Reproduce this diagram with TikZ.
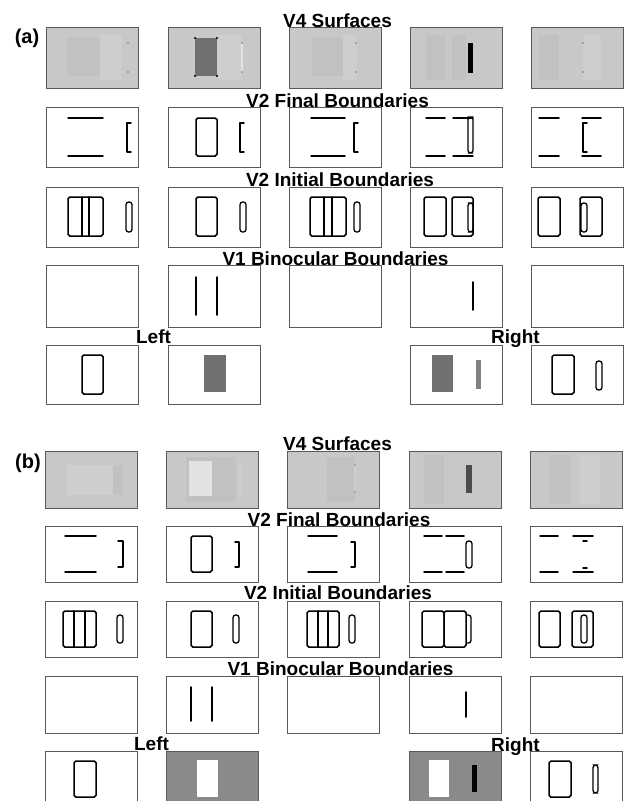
\documentclass[tikz,border=0pt]{standalone}
\usepackage{fontspec}
\setmainfont{Liberation Sans}
\definecolor{vfour}{RGB}{200,200,200}
\definecolor{vfourd}{RGB}{193,193,193}
\definecolor{vfourl}{RGB}{206,206,206}
\definecolor{sgray}{RGB}{112,112,112}
\definecolor{bgray}{RGB}{138,138,138}
\definecolor{pale}{RGB}{226,226,226}
\newcommand\pnl[5]{\node[panel,fill=#5,minimum height=#4pt] (#1) at (#2,#3) {};}
\newcommand\inp[2]{\begin{scope}[shift={(#1.north west)}]#2\end{scope}}
\begin{document}
\begin{tikzpicture}[x=1pt,y=-1pt,
 panel/.style={draw=black!65, line width=0.7pt, inner sep=0pt, outer sep=0pt, minimum width=92pt, anchor=north west},
 ln/.style={line width=1.5pt, line cap=round, line join=round},
 bx/.style={line width=1.5pt, rounded corners=1.8pt},
 capsule/.style={line width=1.3pt, rounded corners=2.6pt},
 lbl/.style={font=\fontsize{19}{21}\selectfont\bfseries, inner sep=0pt, anchor=base},
 tag/.style={font=\fontsize{20}{22}\selectfont\bfseries, inner sep=0pt, anchor=base}]
\useasboundingbox (0,0) rectangle (626,801);
\clip (0,0) rectangle (626,801);
\fill[white] (0,0) rectangle (626,801);

% ================= (a) =================
% Row 1: V4 surfaces
\pnl{a11}{46}{27}{61}{vfour}
\inp{a11}{\fill[vfourl] (54,8) rectangle (76,53); \fill[vfourd] (21,11) rectangle (54,49);
 \fill[black!55] (82,16) circle (0.9); \fill[black!55] (82,45) circle (0.9);}
\pnl{a12}{168}{27}{61}{vfour}
\inp{a12}{\fill[vfourl] (50,8) rectangle (74,53); \fill[sgray] (27,11) rectangle (49,49);
 \foreach \p in {(27,11),(49,11),(27,49),(49,49)} \fill[black] \p circle (1.1);
 \fill[pale] (73,16) rectangle (75,45);
 \fill[black!55] (74,16) circle (0.9); \fill[black!55] (74,45) circle (0.9);}
\pnl{a13}{289}{27}{61}{vfour}
\inp{a13}{\fill[vfourl] (54,8) rectangle (68,53); \fill[vfourd] (23,11) rectangle (54,49);
 \fill[black!55] (67,16) circle (0.9); \fill[black!55] (67,45) circle (0.9);}
\pnl{a14}{410}{27}{61}{vfour}
\inp{a14}{\fill[vfourd] (16,8) rectangle (35,53); \fill[vfourd] (42,8) rectangle (56,53);
 \fill[black] (58,16) rectangle (63,46);}
\pnl{a15}{531}{27}{61}{vfour}
\inp{a15}{\fill[vfourd] (8,8) rectangle (28,53); \fill[vfourl] (52,8) rectangle (70,53);
 \fill[black!55] (52,16) circle (0.9); \fill[black!55] (52,45) circle (0.9);}

% Row 2: V2 final boundaries
\pnl{a21}{46}{107}{60}{white}
\inp{a21}{\draw[ln] (22,11) -- (57,11); \draw[ln] (22,49) -- (57,49);
 \draw[ln] (85,16) -- (81,16) -- (81,45) -- (85,45);}
\pnl{a22}{168}{107}{60}{white}
\inp{a22}{\draw[bx] (28,11) rectangle (49,49);
 \draw[ln] (76,16) -- (72,16) -- (72,45) -- (76,45);}
\pnl{a23}{289}{107}{60}{white}
\inp{a23}{\draw[ln] (22,11) -- (56,11); \draw[ln] (22,49) -- (56,49);
 \draw[ln] (69,16) -- (65,16) -- (65,45) -- (69,45);}
\pnl{a24}{410}{107}{60}{white}
\inp{a24}{\draw[ln] (16,11) -- (35,11); \draw[ln] (43,11) -- (63,11);
 \draw[ln] (16,49) -- (35,49); \draw[ln] (43,49) -- (63,49);
 \draw[capsule] (58,10) rectangle (63,46);}
\pnl{a25}{531}{107}{60}{white}
\inp{a25}{\draw[ln] (8,11) -- (28,11); \draw[ln] (51,11) -- (70,11);
 \draw[ln] (8,49) -- (28,49); \draw[ln] (51,49) -- (70,49);
 \draw[ln] (56,16) -- (52,16) -- (52,45) -- (56,45);}

% Row 3: V2 initial boundaries
\pnl{a31}{46}{187}{60}{white}
\inp{a31}{\draw[bx] (22,10) rectangle (57,49); \draw[ln] (36,10) -- (36,49); \draw[ln] (43,10) -- (43,49);
 \draw[capsule] (80,15) rectangle (86,45);}
\pnl{a32}{168}{187}{60}{white}
\inp{a32}{\draw[bx] (28,10) rectangle (49,49); \draw[capsule] (72,15) rectangle (78,45);}
\pnl{a33}{289}{187}{60}{white}
\inp{a33}{\draw[bx] (21,10) rectangle (57,49); \draw[ln] (35,10) -- (35,49); \draw[ln] (43,10) -- (43,49);
 \draw[capsule] (65,15) rectangle (71,45);}
\pnl{a34}{410}{187}{60}{white}
\inp{a34}{\draw[bx] (14,10) rectangle (36,49); \draw[bx] (42,10) rectangle (63,49);
 \draw[capsule] (58,16) rectangle (63,45);}
\pnl{a35}{531}{187}{60}{white}
\inp{a35}{\draw[bx] (7,10) rectangle (29,49); \draw[bx] (49,10) rectangle (71,49);
 \draw[capsule] (50,16) rectangle (56,45);}

% Row 4: V1 binocular boundaries
\pnl{a41}{46}{265}{62}{white}
\pnl{a42}{168}{265}{62}{white}
\inp{a42}{\draw[ln] (28,12) -- (28,50); \draw[ln] (49,12) -- (49,50);}
\pnl{a43}{289}{265}{62}{white}
\pnl{a44}{410}{265}{62}{white}
\inp{a44}{\draw[ln] (63,17) -- (63,45);}
\pnl{a45}{531}{265}{62}{white}

% Row 5: left / right inputs
\pnl{a51}{46}{345}{59}{white}
\inp{a51}{\draw[bx] (36,10) rectangle (57,49);}
\pnl{a52}{168}{345}{59}{white}
\inp{a52}{\fill[sgray] (36,10) rectangle (58,47);}
\pnl{a54}{410}{345}{59}{white}
\inp{a54}{\fill[sgray] (22,10) rectangle (43,47); \fill[black!50] (66,15) rectangle (71,44);}
\pnl{a55}{531}{345}{59}{white}
\inp{a55}{\draw[bx] (21,10) rectangle (43,49); \draw[capsule] (65,16) rectangle (71,45);}

% labels (a)
\node[tag] (tagA) at (27,43) {(a)};
\node[lbl] (a4lab) at (337.5,27) {V4 Surfaces};
\node[lbl] (a2flab) at (337.5,107) {V2 Final Boundaries};
\node[lbl] (a2ilab) at (340,186) {V2 Initial Boundaries};
\node[lbl] (a1lab) at (335.5,265) {V1 Binocular Boundaries};
\node[lbl] (aleft) at (153.5,343) {Left};
\node[lbl] (aright) at (515.5,343) {Right};

% ================= (b) =================
% Row 1: V4 surfaces
\pnl{b11}{45}{451}{57}{vfour}
\inp{b11}{\fill[vfourl] (22,14) rectangle (68,44); \fill[vfourd] (68,14) rectangle (78,44);}
\pnl{b12}{166}{451}{57}{vfour}
\inp{b12}{\fill[vfourd] (20,6) rectangle (70,51); \fill[pale] (23,10) rectangle (46,45);
 \fill[vfourl] (73,12) rectangle (76,45);}
\pnl{b13}{287}{451}{57}{vfour}
\inp{b13}{\fill[vfourd] (40,6) rectangle (68,51); \fill[vfourl] (67,14) rectangle (69,41);
 \fill[black!50] (68,14) circle (0.8); \fill[black!50] (68,41) circle (0.8);}
\pnl{b14}{409}{451}{57}{vfour}
\inp{b14}{\fill[vfourd] (15,4) rectangle (35,53); \fill[black!70] (57,14) rectangle (63,42);}
\pnl{b15}{530}{451}{57}{vfour}
\inp{b15}{\fill[vfourd] (20,4) rectangle (40,53); \fill[vfourl] (50,4) rectangle (70,53);}

% Row 2: V2 final boundaries
\pnl{b21}{45}{526}{56}{white}
\inp{b21}{\draw[ln] (20,10) -- (51,10); \draw[ln] (20,46) -- (51,46);
 \draw[ln] (73,15) -- (78,15) -- (78,41) -- (73,41);}
\pnl{b22}{166}{526}{56}{white}
\inp{b22}{\draw[bx] (25,10) rectangle (46,46);
 \draw[ln] (69,16) -- (73,16) -- (73,41) -- (69,41);}
\pnl{b23}{287}{526}{56}{white}
\inp{b23}{\draw[ln] (21,10) -- (50,10); \draw[ln] (21,46) -- (50,46);
 \draw[ln] (64,16) -- (68,16) -- (68,41) -- (64,41);}
\pnl{b24}{409}{526}{56}{white}
\inp{b24}{\draw[ln] (15,10) -- (33,10); \draw[ln] (37,10) -- (55,10);
 \draw[ln] (15,46) -- (33,46); \draw[ln] (37,46) -- (55,46);
 \draw[capsule] (57,15) rectangle (63,42);}
\pnl{b25}{530}{526}{56}{white}
\inp{b25}{\draw[ln] (10,10) -- (28,10); \draw[ln] (43,10) -- (63,10);
 \draw[ln] (10,46) -- (28,46); \draw[ln] (43,46) -- (63,46);
 \draw[ln] (53,15) -- (57,15); \draw[ln] (53,42) -- (57,42);}

% Row 3: V2 initial boundaries
\pnl{b31}{45}{601}{56}{white}
\inp{b31}{\draw[bx] (18,10) rectangle (51,46); \draw[ln] (29,10) -- (29,46); \draw[ln] (40,10) -- (40,46);
 \draw[capsule] (72,14) rectangle (78,42);}
\pnl{b32}{166}{601}{56}{white}
\inp{b32}{\draw[bx] (25,10) rectangle (46,46); \draw[capsule] (67,14) rectangle (73,42);}
\pnl{b33}{287}{601}{56}{white}
\inp{b33}{\draw[bx] (20,10) rectangle (52,46); \draw[ln] (31,10) -- (31,46); \draw[ln] (41,10) -- (41,46);
 \draw[capsule] (62,14) rectangle (68,42);}
\pnl{b34}{409}{601}{56}{white}
\inp{b34}{\draw[bx] (13,10) rectangle (35,46); \draw[bx] (35,10) rectangle (57,46);
 \draw[capsule] (57,14) -- (62,14) -- (62,42) -- (57,42);}
\pnl{b35}{530}{601}{56}{white}
\inp{b35}{\draw[bx] (9,10) rectangle (30,46); \draw[bx] (42,10) rectangle (63,46);
 \draw[capsule] (51,14) rectangle (57,42);}

% Row 4: V1 binocular boundaries
\pnl{b41}{45}{676}{57}{white}
\pnl{b42}{166}{676}{57}{white}
\inp{b42}{\draw[ln] (25,11) -- (25,45); \draw[ln] (46,11) -- (46,45);}
\pnl{b43}{287}{676}{57}{white}
\pnl{b44}{409}{676}{57}{white}
\inp{b44}{\draw[ln] (57,16) -- (57,41);}
\pnl{b45}{530}{676}{57}{white}

% Row 5: left / right inputs
\pnl{b51}{45}{751}{62}{white}
\inp{b51}{\draw[bx] (29,10) rectangle (51,46);}
\pnl{b52}{166}{751}{62}{bgray}
\inp{b52}{\fill[white] (31,9) rectangle (52,46);}
\pnl{b54}{409}{751}{62}{bgray}
\inp{b54}{\fill[white] (20,9) rectangle (40,46); \fill[black] (63,14) rectangle (68,41);}
\pnl{b55}{530}{751}{62}{white}
\inp{b55}{\draw[bx] (19,10) rectangle (41,46); \draw[capsule] (63,14) rectangle (68,42);}

% labels (b)
\node[tag] (tagB) at (28,468) {(b)};
\node[lbl] (b4lab) at (337.5,450) {V4 Surfaces};
\node[lbl] (b2flab) at (339,526) {V2 Final Boundaries};
\node[lbl] (b2ilab) at (338,599) {V2 Initial Boundaries};
\node[lbl] (b1lab) at (340.5,675) {V1 Binocular Boundaries};
\node[lbl] (bleft) at (151.5,750) {Left};
\node[lbl] (bright) at (515.5,751) {Right};
\end{tikzpicture}
\end{document}
